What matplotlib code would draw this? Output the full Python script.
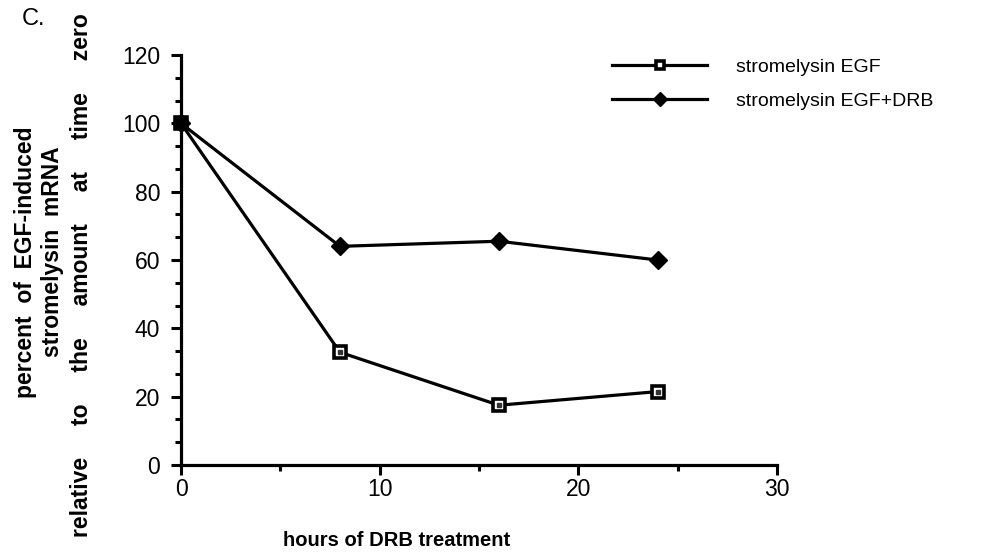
"""Stromelysin mRNA decay after DRB treatment (panel C)."""

import matplotlib

matplotlib.use("Agg")
import matplotlib.pyplot as plt
from matplotlib.ticker import MultipleLocator

hours = [0, 8, 16, 24]
egf = [100, 33, 17.5, 21.5]
egf_drb = [100, 64, 65.5, 60]

x_ticks = [0, 10, 20, 30]
y_ticks = [0, 20, 40, 60, 80, 100, 120]

plt.rcParams["font.family"] = ["Liberation Sans", "DejaVu Sans"]

fig = plt.figure(figsize=(9.99, 5.54), dpi=100)
ax = fig.add_axes([0.1812, 0.1606, 0.5966, 0.7401])

lw = 2.3
l1, = ax.plot(hours, egf, color="black", lw=lw, marker="s", markersize=8,
              markerfacecolor="white", markeredgecolor="black",
              markeredgewidth=2.6, clip_on=False, zorder=3)
ax.plot(hours[1:], egf[1:], ls="none", marker="s", markersize=2.2,
        color="#333333", clip_on=False, zorder=4)
l2, = ax.plot(hours, egf_drb, color="black", lw=lw, marker="D", markersize=9,
              markerfacecolor="black", markeredgecolor="black",
              clip_on=False, zorder=3)

ax.set_xlim(0, 30)
ax.set_ylim(0, 120)
ax.set_xticks(x_ticks)
ax.set_yticks(y_ticks)
ax.xaxis.set_minor_locator(MultipleLocator(5))
ax.yaxis.set_minor_locator(MultipleLocator(20 / 3))

for side in ("top", "right"):
    ax.spines[side].set_visible(False)
for side in ("left", "bottom"):
    ax.spines[side].set_linewidth(2.3)

ax.tick_params(which="major", direction="out", width=2.2, length=7,
               labelsize=16.5, pad=8)
ax.tick_params(which="minor", direction="out", width=2.2, length=4.5)
ax.tick_params(axis="x", which="major", pad=2)

# legend markers a little smaller than the data markers
leg = ax.legend([l1, l2], ["stromelysin EGF", "stromelysin EGF+DRB"],
                loc="upper left", bbox_to_anchor=(0.6126, 0.895),
                bbox_transform=fig.transFigure, frameon=False, fontsize=14,
                handlelength=4.9, handletextpad=1.5, labelspacing=0.85,
                borderpad=0, borderaxespad=0, markerscale=0.8)

fig.text(0.397, 0.007, "hours of DRB treatment", ha="center", va="bottom",
         fontsize=14.5, fontweight="bold")

fig.text(0.026, 0.527, "percent  of  EGF-induced", rotation=90, ha="center",
         va="center", fontsize=16.5, fontweight="bold")
fig.text(0.053, 0.545, "stromelysin  mRNA", rotation=90, ha="center",
         va="center", fontsize=16.5, fontweight="bold")
fig.text(0.082, 0.504,
         "relative     to     the     amount     at     time     zero",
         rotation=90, ha="center", va="center", fontsize=16.5,
         fontweight="bold")

fig.text(0.022, 0.985, "C.", ha="left", va="top", fontsize=17)

fig.savefig("out.png", dpi=100)
plt.close(fig)
